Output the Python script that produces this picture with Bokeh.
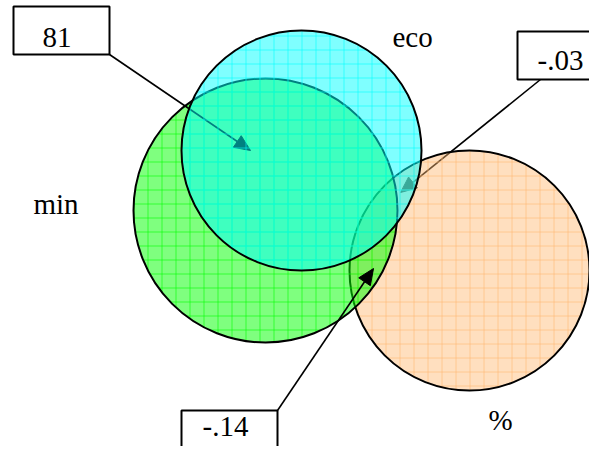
import numpy as np
from bokeh.plotting import figure
from bokeh.models import Range1d
from bokeh.core.properties import value
from bokeh.embed import file_html
from bokeh.resources import INLINE

# ---- data ----
set_labels = ["min", "eco", "%"]
callout_values = ["81", "-.03", "-.14"]

# ---- layout (pixel-like coordinates, y downwards) ----
circ_x = {"min": 265, "eco": 301, "%": 469}
circ_y = {"min": 210, "eco": 150, "%": 270}
circ_r = {"min": 132, "eco": 120, "%": 120}
circ_fill = {"min": "#00ff00", "eco": "#00ffff", "%": "#ffb870"}
circ_alpha = {"min": 0.5, "eco": 0.5, "%": 0.45}
label_pos = {"min": (33, 203), "eco": (392, 36), "%": (488, 419)}

box_rect = {"81": (13, 6, 109, 54), "-.03": (517, 31, 615, 79), "-.14": (181, 410, 277, 472)}
box_text = {"81": (42, 37), "-.03": (537, 60), "-.14": (202, 426)}
arrow_seg = {"81": ((109, 54), (250, 150)),
             "-.03": ((540, 79), (400, 192)),
             "-.14": ((277, 410), (373, 268))}

FONT = value("Liberation Serif")

p = figure(width=589, height=446, x_range=Range1d(0, 589), y_range=Range1d(446, 0),
           output_backend="svg", toolbar_location=None, min_border=0,
           x_axis_location=None, y_axis_location=None)
p.grid.visible = False
p.outline_line_color = None
p.background_fill_color = "white"


def draw_arrow(key, color="black"):
    (x0, y0), (x1, y1) = arrow_seg[key]
    d = np.array([x1 - x0, y1 - y0], dtype=float)
    d /= np.hypot(*d)
    n = np.array([-d[1], d[0]])
    L, W = 16.0, 7.0
    base = np.array([x1, y1]) - L * d
    p.segment(x0=[x0], y0=[y0], x1=[base[0]], y1=[base[1]], line_color=color, line_width=1.6)
    xs = [x1, base[0] + W * n[0], base[0] - W * n[0]]
    ys = [y1, base[1] + W * n[1], base[1] - W * n[1]]
    p.patch(xs, ys, fill_color=color, line_color=color)


def draw_circle(name):
    p.circle(x=[circ_x[name]], y=[circ_y[name]], radius=[circ_r[name]],
             fill_color=circ_fill[name], fill_alpha=circ_alpha[name],
             line_color="black", line_width=2,
             hatch_pattern="+", hatch_color=circ_fill[name], hatch_alpha=0.6,
             hatch_scale=14, hatch_weight=1)


draw_arrow("-.03")
draw_circle("%")
draw_circle("min")
draw_arrow("81")
draw_circle("eco")
draw_arrow("-.14")

for v in callout_values:
    x0, y0, x1, y1 = box_rect[v]
    p.quad(left=[x0], right=[x1], top=[y0], bottom=[y1], fill_color="white",
           line_color="black", line_width=2)
    tx, ty = box_text[v]
    p.text(x=[tx], y=[ty], text=[v], text_font=FONT, text_font_size="29px",
           text_align="left", text_baseline="alphabetic", text_color="black")

for s in set_labels:
    tx, ty = label_pos[s]
    p.text(x=[tx], y=[ty], text=[s], text_font=FONT, text_font_size="29px",
           text_align="left", text_baseline="alphabetic", text_color="black")

open("out.html", "w").write(file_html(p, INLINE))
